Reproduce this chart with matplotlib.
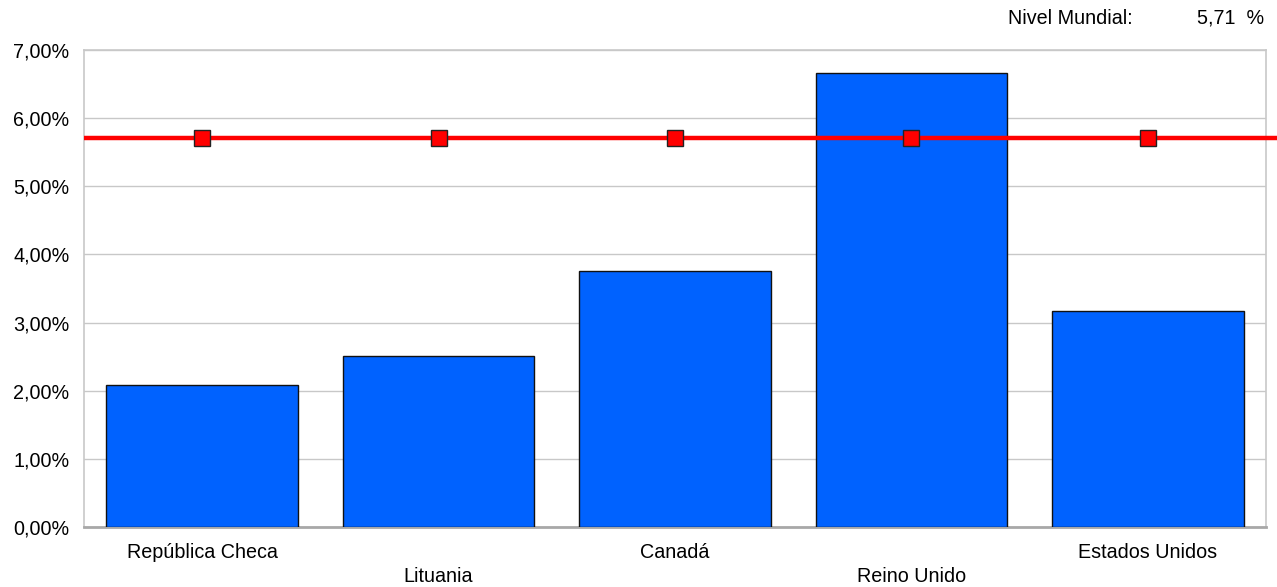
import matplotlib
matplotlib.use("Agg")
import matplotlib.pyplot as plt
from matplotlib.ticker import FuncFormatter

categories = ["República Checa", "Lituania", "Canadá", "Reino Unido", "Estados Unidos"]
values = [2.08, 2.51, 3.76, 6.66, 3.17]
world_level = 5.71
yticks = [0, 1, 2, 3, 4, 5, 6, 7]

plt.rcParams['font.family'] = ['Liberation Sans', 'DejaVu Sans']

fig = plt.figure(figsize=(12.77, 5.87), dpi=100)
ax = fig.add_axes([84/1277, 1 - 527/587, (1266-84)/1277, (527-50)/587])

x = list(range(len(categories)))
ax.bar(x, values, width=0.81, color='#0062FF', edgecolor='#111111', linewidth=1.0, zorder=3)

# World level line, extending to figure edge
ax.plot([-0.5, 5.05], [world_level, world_level], color='#FF0000', linewidth=3.2,
        zorder=4, clip_on=False, solid_capstyle='butt')
ax.plot(x, [world_level]*len(x), linestyle='none', marker='s', markersize=11,
        markerfacecolor='#FF0000', markeredgecolor='#222222', markeredgewidth=1.0, zorder=5)

ax.set_xlim(-0.5, len(categories) - 0.5)
ax.set_ylim(0, 7)
ax.set_yticks(yticks)
ax.yaxis.set_major_formatter(FuncFormatter(lambda v, p: f"{v:.2f}".replace('.', ',') + "%"))
ax.tick_params(axis='y', length=0, pad=10.5, labelsize=14.2)
ax.set_xticks([])
ax.grid(axis='y', color='#c8c8c8', linewidth=1.0, zorder=0)
ax.set_axisbelow(True)

for s in ['left', 'right', 'top']:
    ax.spines[s].set_color('#c8c8c8')
    ax.spines[s].set_linewidth(1.2)
ax.spines['bottom'].set_color('#a8a8a8')
ax.spines['bottom'].set_linewidth(2.0)

for i, c in enumerate(categories):
    ypix = 552 if i % 2 == 0 else 577
    fig.text(ax.transData.transform((i, 0))[0] / 1277, 1 - ypix/587, c,
             ha='center', va='center', fontsize=14.2)

fig.text(1133/1277, 1 - 18/587, "Nivel Mundial:", ha='right', va='center', fontsize=14.2)
fig.text(1264/1277, 1 - 18/587, "5,71  %", ha='right', va='center', fontsize=14.2)

fig.savefig("out.png", dpi=100)
